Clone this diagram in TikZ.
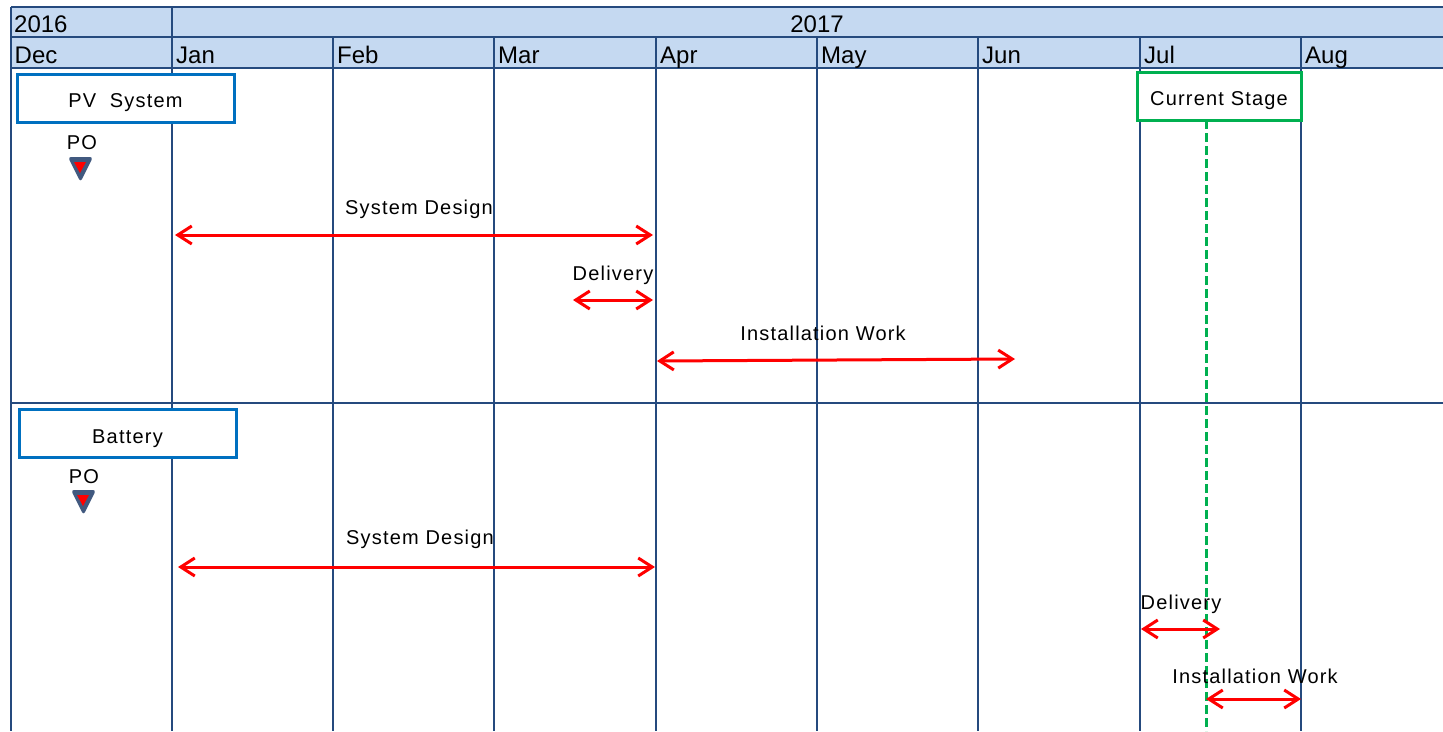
\documentclass[tikz,border=0pt]{standalone}
\usepackage{fontspec}
\setmainfont{Liberation Sans}
\newfontfamily\lab[LetterSpace=6]{Liberation Sans}
\usetikzlibrary{arrows.meta}
\definecolor{hdr}{HTML}{C5D9F1}
\definecolor{gridc}{HTML}{254A7E}
\definecolor{boxblue}{HTML}{0070C0}
\definecolor{stagegreen}{HTML}{00B050}
\definecolor{trif}{HTML}{41597F}
\begin{document}
\begin{tikzpicture}[x=1pt,y=-1pt,
  gridline/.style={draw=gridc, line width=2pt},
  hdrc/.style={font=\fontsize{24}{24}\selectfont, inner sep=0pt, text height=17.2pt, text depth=0pt},
  hdrtext/.style={hdrc, anchor=west},
  lbl/.style={font=\lab\fontsize{20}{20}\selectfont, inner sep=0pt, text height=14.3pt, text depth=0pt},
  catbox/.style={draw=boxblue, line width=3pt, fill=white, minimum width=217pt, minimum height=48pt, inner sep=0pt, font=\lab\fontsize{20}{20}\selectfont, text height=19.6pt, text depth=0pt},
  stagebox/.style={draw=stagegreen, line width=3pt, fill=white, minimum width=164pt, minimum height=48pt, inner sep=0pt, font=\lab\fontsize{20}{20}\selectfont, text height=18.3pt, text depth=0pt},
  spanarrow/.style={draw=red, line width=3pt, {Straight Barb[length=14pt,width=18pt]}-{Straight Barb[length=14pt,width=18pt]}},
  potri/.style={fill=trif, rounded corners=3pt},
  potriin/.style={fill=red},
]
\useasboundingbox (0,0) rectangle (1443,731);
% header fill
\fill[hdr] (11,7) rectangle (1443,68);
% horizontal lines
\draw[gridline] (11,7) -- (1443,7);
\draw[gridline] (11,37) -- (1443,37);
\draw[gridline] (11,68) -- (1443,68);
\draw[gridline] (11,403) -- (1443,403);
% vertical lines
\draw[gridline] (11,7) -- (11,731);
\draw[gridline] (172,7) -- (172,731);
\foreach \x in {333,494,656,817,978,1140,1301} {
  \draw[gridline] (\x,37) -- (\x,731);
}
% header texts
\node[hdrtext] (y2016) at (14,24) {2016};
\node[hdrc] (y2017) at (817,24) {2017};
\node[hdrtext] (mdec) at (14.5,55) {Dec};
\node[hdrtext] (mjan) at (176,55) {Jan};
\node[hdrtext] (mfeb) at (337,55) {Feb};
\node[hdrtext] (mmar) at (498,55) {Mar};
\node[hdrtext] (mapr) at (660,55) {Apr};
\node[hdrtext] (mmay) at (821,55) {May};
\node[hdrtext] (mjun) at (982,55) {Jun};
\node[hdrtext] (mjul) at (1144,55) {Jul};
\node[hdrtext] (maug) at (1305,55) {Aug};

% current stage dashed line
\node[stagebox] (cs) at (1219,96) {Current Stage};
\coordinate (csTop) at (1206,120);
\coordinate (csBot) at (1206,731);
\draw[stagegreen, line width=3pt, dash pattern=on 9pt off 4pt] (csTop) -- (csBot);

% PV system
\node[catbox] (pv) at (125.5,98) {PV\ \ System};
\node[lbl] (po1) at (82,142) {PO};
\fill[potri] (68,157) -- (93,157) -- (80.5,182) -- cycle;
\fill[potriin] (74,162) -- (86,162) -- (80,173) -- cycle;

\node[lbl] (sd1) at (419,207) {System Design};
\coordinate (sd1a) at (175,235);
\coordinate (sd1b) at (653,235);
\draw[spanarrow] (sd1a) -- (sd1b);

\node[lbl] (dl1) at (613,273) {Delivery};
\coordinate (dl1a) at (573,300);
\coordinate (dl1b) at (653,300);
\draw[spanarrow] (dl1a) -- (dl1b);

\node[lbl] (iw1) at (823,333.5) {Installation Work};
\coordinate (iw1a) at (657,361);
\coordinate (iw1b) at (1015,359);
\draw[spanarrow] (iw1a) -- (iw1b);

% Battery
\node[catbox] (bat) at (127.5,433.5) {Battery};
\node[lbl] (po2) at (84,476) {PO};
\fill[potri] (71,490) -- (96,490) -- (83.5,515) -- cycle;
\fill[potriin] (77,495) -- (89,495) -- (83,506) -- cycle;

\node[lbl] (sd2) at (420,537.5) {System Design};
\coordinate (sd2a) at (178,567);
\coordinate (sd2b) at (655,567);
\draw[spanarrow] (sd2a) -- (sd2b);

\node[lbl] (dl2) at (1181,602) {Delivery};
\coordinate (dl2a) at (1141,629);
\coordinate (dl2b) at (1220,629);
\draw[spanarrow] (dl2a) -- (dl2b);

\node[lbl] (iw2) at (1255,676) {Installation Work};
\coordinate (iw2a) at (1206,699);
\coordinate (iw2b) at (1301,699);
\draw[spanarrow] (iw2a) -- (iw2b);
\end{tikzpicture}
\end{document}
